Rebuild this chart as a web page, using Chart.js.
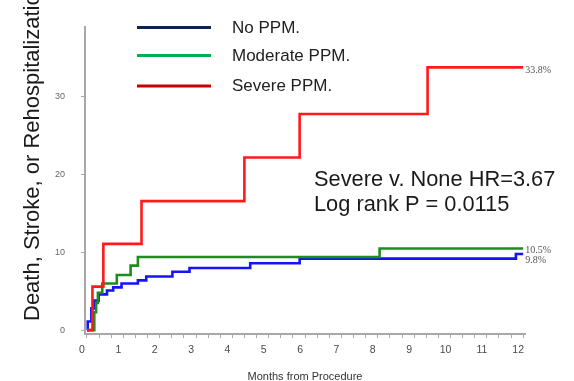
<!DOCTYPE html>
<html lang="en">
<head>
  <meta charset="UTF-8"/>
  <title>PPM Outcomes</title>
  <script src="https://cdn.jsdelivr.net/npm/chart.js"></script>
  <style>
    html, body {
      margin: 0;
      padding: 0;
      background: #fff;
    }
    #wrap {
      width: 574px;
      height: 381px;
    }
  </style>
</head>
<body>
  <div id="wrap"><canvas id="kmChart" width="574" height="381"></canvas></div>

  <script>
    const seriesNames = ["No PPM.", "Moderate PPM.", "Severe PPM."];

    // cumulative event rate (%) by months from procedure, one step per event
    const noneMonths = [0, 0.02, 0.12, 0.2, 0.32, 0.55, 0.72, 0.95, 1.4, 1.63, 2.35, 2.82, 4.49, 5.85, 11.8, 12];
    const noneRates  = [0, 1.1, 2.8, 3.8, 4.6, 5.1, 5.5, 6.0, 6.4, 6.9, 7.5, 8.0, 8.6, 9.2, 9.8, 9.8];

    const moderateMonths = [0, 0.2, 0.25, 0.3, 0.42, 0.82, 1.2, 1.4, 8.05, 12];
    const moderateRates  = [0, 2.3, 3.5, 4.8, 6.0, 7.1, 8.3, 9.4, 10.5, 10.5];

    const severeMonths = [0, 0.15, 0.45, 1.5, 4.33, 5.85, 9.37, 12];
    const severeRates  = [0, 5.6, 11.1, 16.6, 22.2, 27.8, 33.8, 33.8];

    const monthTicks = [0, 1, 2, 3, 4, 5, 6, 7, 8, 9, 10, 11, 12];
    const rateTicks = [0, 10, 20, 30];

    const endLabels = ["9.8%", "10.5%", "33.8%"];
    const statLines = ["Severe v. None HR=3.67", "Log rank P = 0.0115"];

    const curveColors = ["#1414f5", "#1e8c1e", "#ff1a1a"];
    const legendColors = ["#0f2350", "#00b050", "#c80000"];

    const sans = "'Liberation Sans', Arial, sans-serif";

    function toPoints(xs, ys) {
      return xs.map((x, i) => ({ x: x, y: ys[i] }));
    }

    // overlay: rotated y title, legend, stats box and end-of-curve labels
    const overlay = {
      id: 'overlay',
      afterDraw(chart) {
        const ctx = chart.ctx;
        ctx.save();

        // y title runs from the bottom and gets clipped at the top
        ctx.save();
        ctx.translate(33, 321);
        ctx.rotate(-Math.PI / 2);
        ctx.font = "22px " + sans;
        ctx.fillStyle = "#1a1a1a";
        ctx.textAlign = "left";
        ctx.textBaseline = "middle";
        ctx.fillText("Death, Stroke, or Rehospitalization", 0, 0);
        ctx.restore();

        // legend
        const legendY = [27.5, 55.5, 86];
        ctx.lineWidth = 3;
        ctx.font = "17px " + sans;
        ctx.textBaseline = "middle";
        ctx.textAlign = "left";
        seriesNames.forEach((name, i) => {
          ctx.strokeStyle = legendColors[i];
          ctx.beginPath();
          ctx.moveTo(137, legendY[i]);
          ctx.lineTo(211, legendY[i]);
          ctx.stroke();
          ctx.fillStyle = "#222";
          ctx.fillText(name, 232, legendY[i] + 0.5);
        });

        // hazard ratio / log rank
        ctx.font = "21.8px " + sans;
        ctx.fillStyle = "#1a1a1a";
        ctx.textBaseline = "alphabetic";
        ctx.fillText(statLines[0], 314, 186);
        ctx.fillText(statLines[1], 314, 211);

        // final rates next to each curve
        const dy = [6, 2, 3];
        ctx.font = "10px 'Liberation Serif', 'Times New Roman', serif";
        ctx.fillStyle = "#555";
        ctx.textBaseline = "middle";
        chart.data.datasets.forEach((ds, i) => {
          const meta = chart.getDatasetMeta(i);
          const last = meta.data[meta.data.length - 1];
          ctx.fillText(endLabels[i], last.x + 2, last.y + dy[i]);
        });

        ctx.restore();
      }
    };

    function initChart() {
      new Chart(document.getElementById('kmChart'), {
        type: 'line',
        data: {
          datasets: [
            { label: seriesNames[0], data: toPoints(noneMonths, noneRates), borderColor: curveColors[0], order: 2 },
            { label: seriesNames[1], data: toPoints(moderateMonths, moderateRates), borderColor: curveColors[1], order: 1 },
            { label: seriesNames[2], data: toPoints(severeMonths, severeRates), borderColor: curveColors[2], order: 0 }
          ].map(ds => Object.assign(ds, {
            stepped: true,
            borderWidth: 2.6,
            pointRadius: 0,
            fill: false
          }))
        },
        options: {
          responsive: false,
          animation: false,
          devicePixelRatio: 1,
          layout: {
            padding: { top: 27, right: 49, left: 0, bottom: 0 }
          },
          plugins: {
            legend: { display: false },
            tooltip: { enabled: false }
          },
          scales: {
            x: {
              type: 'linear',
              min: -0.055,
              max: 12.05,
              border: { color: '#a8a8a8', width: 2 },
              grid: {
                drawOnChartArea: false,
                tickLength: 4,
                color: '#a8a8a8',
                lineWidth: 1
              },
              afterBuildTicks: scale => {
                const ticks = [];
                monthTicks.forEach(m => {
                  ticks.push({ value: m });
                  if (m < 12) {
                    ticks.push({ value: m + 1 / 3 });
                    ticks.push({ value: m + 2 / 3 });
                  }
                });
                scale.ticks = ticks;
              },
              afterFit: scale => { scale.height = 47; },
              ticks: {
                autoSkip: false,
                maxRotation: 0,
                labelOffset: -5,
                padding: 6,
                color: '#4a4a4a',
                font: { family: sans, size: 10.5 },
                callback: v => monthTicks.includes(v) ? String(v) : ''
              },
              title: {
                display: true,
                text: 'Months from Procedure',
                color: '#333',
                font: { family: sans, size: 11 },
                padding: { top: 0, bottom: -3 }
              }
            },
            y: {
              min: -0.5,
              max: 39,
              border: { color: '#a8a8a8', width: 2 },
              grid: {
                drawOnChartArea: false,
                tickLength: 4,
                color: '#a8a8a8',
                lineWidth: 1
              },
              afterBuildTicks: scale => {
                scale.ticks = rateTicks.map(v => ({ value: v }));
              },
              afterFit: scale => { scale.width = 85; },
              ticks: {
                padding: 16,
                color: '#666',
                font: { family: sans, size: 9 }
              }
            }
          }
        },
        plugins: [overlay]
      });
    }

    window.onload = initChart;
  </script>
</body>
</html>
